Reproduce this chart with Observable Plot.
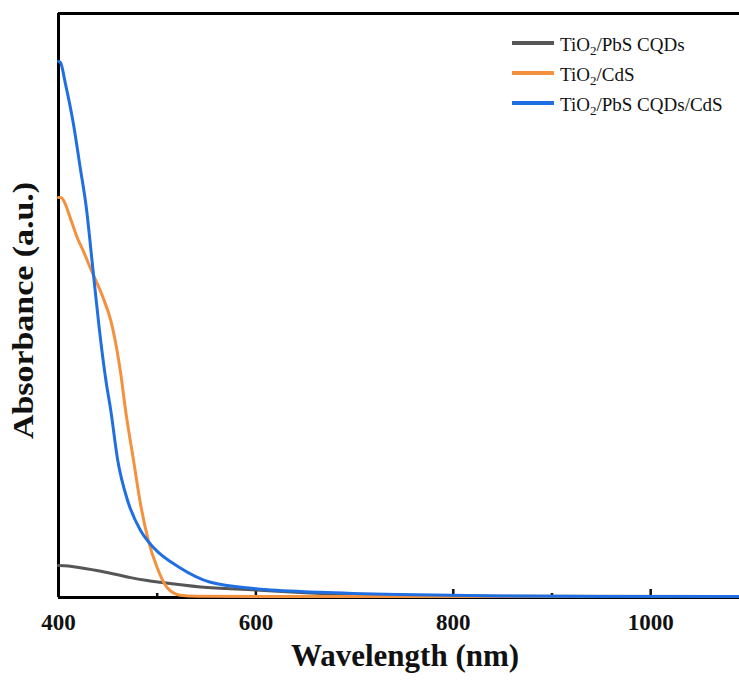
<!DOCTYPE html>
<html><head><meta charset="utf-8">
<script src="https://cdn.jsdelivr.net/npm/d3@7"></script>
<script src="https://cdn.jsdelivr.net/npm/@observablehq/plot@0.6"></script>
<style>body{margin:0;background:#fff} svg{display:block}</style>
</head><body><div id="chart"></div>
<script>
// Series names and colours
const seriesNames = ["TiO2/PbS CQDs", "TiO2/CdS", "TiO2/PbS CQDs/CdS"];
const seriesColors = ["#565656", "#f3913f", "#1f6fe3"];
const legendParts = [["TiO", "2", "/PbS CQDs"], ["TiO", "2", "/CdS"], ["TiO", "2", "/PbS CQDs/CdS"]];

// TiO2/PbS CQDs
const pbsWavelength = [400, 410, 422, 443, 460, 473, 490, 503, 544, 600, 645, 700, 797, 900, 1090];
const pbsAbsorbance = [0.055, 0.054, 0.051, 0.045, 0.039, 0.034, 0.029, 0.026, 0.018, 0.013, 0.0086, 0.005, 0.0026, 0.002, 0.0017];

// TiO2/CdS
const cdsWavelength = [400, 402, 414, 419, 425, 432, 445, 453, 461, 463, 468, 476, 483, 491, 500, 510, 523, 541, 600, 800, 1090];
const cdsAbsorbance = [0.685, 0.685, 0.640, 0.616, 0.594, 0.565, 0.514, 0.474, 0.406, 0.384, 0.320, 0.235, 0.161, 0.098, 0.051, 0.017, 0.004, 0.002, 0.0015, 0.0015, 0.0015];

// TiO2/PbS CQDs/CdS
const mixWavelength = [400, 402, 407, 415, 422, 428, 435, 441, 448, 453, 460, 470, 483, 496, 523, 554, 600, 665, 746, 848, 949, 1090];
const mixAbsorbance = [0.918, 0.916, 0.880, 0.812, 0.736, 0.670, 0.560, 0.465, 0.372, 0.320, 0.235, 0.166, 0.115, 0.086, 0.051, 0.026, 0.015, 0.009, 0.005, 0.0026, 0.0018, 0.0017];

// Axis ticks and titles
const tickLabels = [400, 600, 800, 1000];
const majorTicks = [600, 800, 1000];
const minorTicks = [500, 700, 900];
const xTitle = "Wavelength (nm)";
const yTitle = "Absorbance (a.u.)";

const data = [
  ...pbsWavelength.map((w, i) => ({series: seriesNames[0], w, a: pbsAbsorbance[i]})),
  ...cdsWavelength.map((w, i) => ({series: seriesNames[1], w, a: cdsAbsorbance[i]})),
  ...mixWavelength.map((w, i) => ({series: seriesNames[2], w, a: mixAbsorbance[i]}))
];

const font = "'Liberation Serif', 'Times New Roman', serif";

const chart = Plot.plot({
  width: 739, height: 686,
  marginLeft: 58, marginTop: 13, marginBottom: 89, marginRight: 0,
  style: {fontFamily: font, background: "white", color: "#111"},
  x: {domain: [400, 1090]},
  y: {domain: [0, 1], axis: null},
  color: {domain: seriesNames, range: seriesColors},
  marks: [
    Plot.axisX(majorTicks, {tickSize: -8, strokeWidth: 2.5, tickFormat: () => "", label: null}),
    Plot.axisX(minorTicks, {tickSize: -4, strokeWidth: 2.5, tickFormat: () => "", label: null}),
    Plot.axisX(tickLabels, {tickSize: 0, tickPadding: 16, fontSize: 23, fontWeight: "bold", label: null, tickFormat: d => String(d)}),
    Plot.ruleY([0], {strokeWidth: 3, stroke: "#000"}),
    Plot.ruleY([1], {strokeWidth: 3, stroke: "#000"}),
    Plot.ruleX([400], {strokeWidth: 3, stroke: "#000"}),
    Plot.line(data, {x: "w", y: "a", z: "series", stroke: "series", strokeWidth: 3, curve: "monotone-x"}),
    Plot.text([xTitle], {text: d => d, frameAnchor: "bottom", dy: 68, dx: 6, fontSize: 31, fontWeight: "bold"}),
    Plot.text([yTitle], {text: d => d, frameAnchor: "left", textAnchor: "middle", rotate: -90, dx: -35, dy: 5, fontSize: 29, fontWeight: "bold"})
  ]
});

document.getElementById("chart").appendChild(chart);

const svg = d3.select(chart);
svg.selectAll("text").filter(function() { return this.textContent === yTitle; })
  .each(function() {
    const tr = this.getAttribute("transform") || "";
    this.setAttribute("transform", tr + " scale(1.17,1)");
  });

const lg = svg.append("g").attr("font-family", font).attr("font-size", 19)
  .attr("fill", "#111").attr("text-anchor", "start");
legendParts.forEach((parts, i) => {
  const y = 43 + i * 30;
  lg.append("line").attr("x1", 512).attr("x2", 554).attr("y1", y).attr("y2", y)
    .attr("stroke", seriesColors[i]).attr("stroke-width", 4);
  const t = lg.append("text").attr("x", 560).attr("y", y + 8);
  t.append("tspan").text(parts[0]);
  t.append("tspan").attr("font-size", 13).attr("dy", 4).text(parts[1]);
  t.append("tspan").attr("dy", -4).text(parts[2]);
});
</script>
</body></html>
